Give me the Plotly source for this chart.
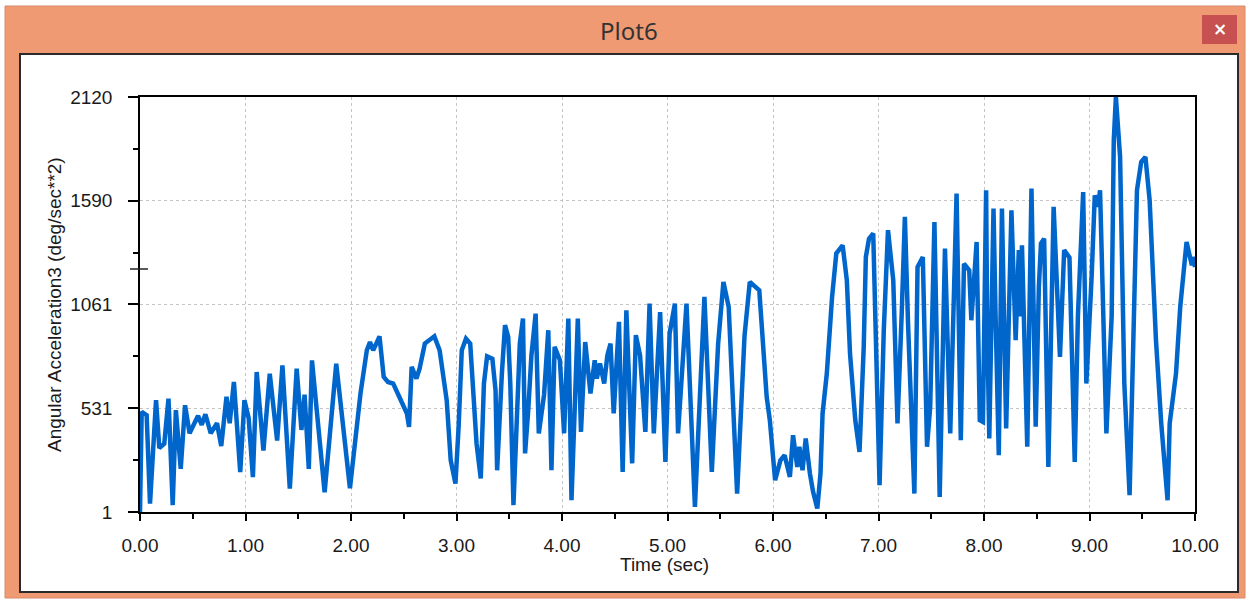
import plotly.graph_objects as go

# ---- data (keypoints: time [s], angular acceleration [deg/s^2]) ----
t_0_2 = [0.00, 0.003, 0.016, 0.063, 0.095, 0.152, 0.183, 0.23, 0.27, 0.31, 0.34, 0.386, 0.427, 0.47,
         0.55, 0.585, 0.62, 0.67, 0.73, 0.77, 0.82, 0.85, 0.89, 0.95, 0.99, 1.03, 1.07, 1.106, 1.17,
         1.23, 1.30, 1.35, 1.42, 1.485, 1.53, 1.56, 1.60, 1.63, 1.75, 1.86, 1.99]
v_0_2 = [1, 121, 512, 495, 44, 572, 327, 350, 580, 36, 521, 221, 546, 403,
         492, 446, 500, 403, 454, 338, 589, 454, 665, 205, 572, 480, 179, 716, 315,
         707, 366, 750, 120, 733, 420, 600, 221, 775, 102, 758, 122]

t_2_4 = [2.09, 2.15, 2.18, 2.21, 2.24, 2.27, 2.31, 2.35, 2.40, 2.53, 2.55, 2.575, 2.62, 2.65, 2.70,
         2.79, 2.84, 2.907, 2.945, 2.99, 3.02, 3.05, 3.09, 3.13, 3.16, 3.19, 3.23, 3.26, 3.29, 3.34,
         3.37, 3.385, 3.43, 3.46, 3.49, 3.51, 3.54, 3.60, 3.63, 3.65, 3.68, 3.71, 3.75, 3.78, 3.83,
         3.87, 3.90, 3.93, 3.98]
v_2_4 = [606, 827, 869, 827, 861, 898, 691, 665, 657, 504, 436, 742, 682, 733, 861,
         898, 827, 572, 265, 146, 436, 827, 886, 861, 606, 351, 172, 657, 796, 784,
         623, 214, 708, 955, 895, 657, 36, 861, 989, 300, 521, 800, 1014, 402, 600,
         929, 214, 844, 776]

t_4_6 = [4.02, 4.06, 4.09, 4.12, 4.15, 4.18, 4.22, 4.27, 4.31, 4.33, 4.36, 4.40, 4.43, 4.46, 4.49,
         4.54, 4.575, 4.61, 4.665, 4.70, 4.74, 4.79, 4.83, 4.87, 4.93, 4.98, 5.02, 5.07, 5.10, 5.18,
         5.26, 5.35, 5.42, 5.48, 5.53, 5.58, 5.62, 5.66, 5.73, 5.78, 5.87, 5.91, 5.94, 5.97]
v_4_6 = [402, 989, 61, 521, 989, 410, 869, 606, 776, 682, 759, 657, 800, 861, 504,
         972, 206, 1031, 249, 904, 800, 410, 1065, 402, 1022, 257, 912, 1065, 402, 1065,
         27, 1099, 206, 861, 1176, 1048, 521, 95, 900, 1176, 1133, 776, 589, 470]

t_6_8 = [6.02, 6.07, 6.11, 6.16, 6.19, 6.23, 6.25, 6.28, 6.31, 6.35, 6.38, 6.42, 6.45, 6.47, 6.51,
         6.56, 6.60, 6.66, 6.70, 6.73, 6.78, 6.82, 6.86, 6.88, 6.91, 6.95, 6.98, 7.01, 7.05, 7.09,
         7.14, 7.18, 7.22, 7.25, 7.28, 7.34, 7.37, 7.42, 7.46, 7.49, 7.53, 7.58, 7.63, 7.68, 7.74,
         7.78, 7.81, 7.86, 7.88, 7.93, 7.96]
v_6_8 = [163, 265, 291, 180, 393, 231, 334, 214, 376, 197, 104, 19, 197, 504, 708,
         1099, 1321, 1363, 1184, 810, 470, 308, 844, 1303, 1397, 1423, 844, 138, 929, 1440,
         1184, 453, 1014, 1508, 964, 95, 1252, 1303, 334, 538, 1482, 78, 1346, 402, 1627,
         368, 1269, 1235, 980, 1380, 470]

t_8_10 = [7.99, 8.02, 8.03, 8.05, 8.07, 8.09, 8.11, 8.14, 8.17, 8.19, 8.21, 8.26, 8.30, 8.33, 8.34,
          8.36, 8.41, 8.45, 8.49, 8.52, 8.54, 8.57, 8.61, 8.66, 8.72, 8.76, 8.81, 8.86, 8.89, 8.94,
          8.97, 9.02, 9.05, 9.08, 9.10, 9.16, 9.21, 9.23, 9.25, 9.29, 9.33, 9.38, 9.42, 9.45, 9.49,
          9.53, 9.57, 9.63, 9.68, 9.74, 9.76, 9.82, 9.86, 9.92, 9.97, 9.98, 10.00]
v_8_10 = [461, 1644, 960, 376, 1100, 1550, 1000, 291, 1550, 900, 427, 1542, 878, 1338, 1000,
          1363, 334, 1653, 436, 1150, 1372, 1397, 231, 1559, 793, 1338, 1300, 257, 1000, 1635,
          657, 1200, 1618, 1560, 1644, 402, 1000, 1899, 2120, 1814, 657, 87, 1048, 1644, 1788,
          1814, 1593, 878, 453, 61, 453, 708, 1048, 1380, 1261, 1303, 1252]

time_s = t_0_2 + t_2_4 + t_4_6 + t_6_8 + t_8_10
accel = v_0_2 + v_2_4 + v_4_6 + v_6_8 + v_8_10

y_ticks = [1, 531, 1061, 1590, 2120]
y_minor = [266, 796, 1325.5, 1855]
x_ticks = [0, 1, 2, 3, 4, 5, 6, 7, 8, 9, 10]

# ---- geometry helpers (plot area in pixels) ----
W, H = 1250, 600
PL, PR, PT, PB = 140, 1195, 97, 512


def px(x):
    return (x - PL) / (PR - PL)


def py(y):
    return (PB - y) / (PB - PT)


FONT = "Liberation Sans, Arial, sans-serif"

fig = go.Figure()
fig.add_trace(go.Scatter(
    x=time_s, y=accel, mode="lines",
    line=dict(color="#0066CC", width=4.5),
    hoverinfo="skip", showlegend=False,
))

shapes = [
    # window frame
    dict(type="rect", xref="paper", yref="paper", layer="below",
         x0=px(5), x1=px(1245), y0=py(598), y1=py(6),
         fillcolor="#EF9A73", line=dict(color="#D8886A", width=1)),
    # inner white panel
    dict(type="rect", xref="paper", yref="paper", layer="below",
         x0=px(20), x1=px(1238), y0=py(592), y1=py(54),
         fillcolor="white", line=dict(color="#2a2a2a", width=2)),
    # close button
    dict(type="rect", xref="paper", yref="paper", layer="below",
         x0=px(1202), x1=px(1237), y0=py(44), y1=py(15),
         fillcolor="#C75050", line=dict(width=0)),
    # odd long tick on the y axis
    dict(type="line", xref="paper", yref="paper",
         x0=px(130), x1=px(148), y0=py(269), y1=py(269),
         line=dict(color="#222", width=1.5)),
]

annotations = [
    dict(text="Plot6", xref="paper", yref="paper", x=px(629), y=py(31),
         showarrow=False, xanchor="center", yanchor="middle",
         font=dict(family="Noto Sans, Open Sans, sans-serif", size=24, color="#333333")),
    dict(text="<b>×</b>", xref="paper", yref="paper", x=px(1219.5), y=py(29),
         showarrow=False, xanchor="center", yanchor="middle",
         font=dict(family="DejaVu Sans", size=17, color="white")),
    dict(text="Time (sec)", xref="paper", yref="paper", x=px(664), y=py(564),
         showarrow=False, xanchor="center", yanchor="middle",
         font=dict(family=FONT, size=19, color="#1a1a1a")),
    dict(text="Angular Acceleration3 (deg/sec**2)", xref="paper", yref="paper",
         x=px(54), y=py(305), textangle=-90,
         showarrow=False, xanchor="center", yanchor="middle",
         font=dict(family=FONT, size=19, color="#1a1a1a")),
]

fig.update_layout(
    width=W, height=H, autosize=False,
    margin=dict(l=PL, r=W - PR, t=PT, b=H - PB, pad=0),
    paper_bgcolor="white", plot_bgcolor="rgba(0,0,0,0)",
    shapes=shapes, annotations=annotations,
    font=dict(family=FONT, size=19, color="#1a1a1a"),
)

fig.update_xaxes(
    range=[0, 10], tickvals=x_ticks, tickformat=".2f",
    showline=True, linecolor="black", linewidth=1.5, mirror=True,
    ticks="outside", ticklen=7, tickcolor="black", tickwidth=1.5,
    ticklabelstandoff=8,
    showgrid=True, gridcolor="#c4c4c4", griddash="dot", gridwidth=1,
    zeroline=False,
    minor=dict(dtick=0.5, ticks="outside", ticklen=5, tickcolor="black", showgrid=False),
    tickfont=dict(family=FONT, size=19, color="#1a1a1a"),
)
fig.update_yaxes(
    range=[1, 2120], tickvals=y_ticks,
    showline=True, linecolor="black", linewidth=1.5, mirror=True,
    ticks="outside", ticklen=10, tickcolor="black", tickwidth=1.5,
    ticklabelstandoff=12,
    showgrid=True, gridcolor="#c4c4c4", griddash="dot", gridwidth=1,
    zeroline=False,
    minor=dict(tickvals=y_minor, ticks="outside", ticklen=5, tickcolor="black", showgrid=False),
    tickfont=dict(family=FONT, size=19, color="#1a1a1a"),
)

fig.write_html("out.html", config={"displayModeBar": False},
               post_script="document.body.style.margin='0px';")
